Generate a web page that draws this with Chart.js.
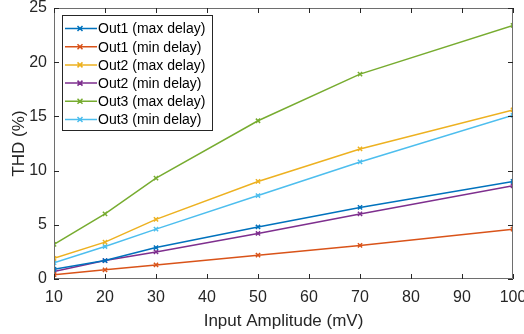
<!DOCTYPE html>
<html>
<head>
<meta charset="utf-8">
<script src="https://cdn.jsdelivr.net/npm/chart.js@4/dist/chart.umd.min.js"></script>
<style>
  html, body { margin: 0; padding: 0; background: #fff; }
  #wrap { width: 524px; height: 334px; }
</style>
</head>
<body>
<div id="wrap"><canvas id="myChart" width="524" height="334"></canvas></div>
<script>
// Data
const amplitudes = [10, 20, 30, 50, 70, 100]; // mV
const seriesNames = [
  'Out1 (max delay)', 'Out1 (min delay)',
  'Out2 (max delay)', 'Out2 (min delay)',
  'Out3 (max delay)', 'Out3 (min delay)'
];
const out1Max = [0.9, 1.7, 2.9, 4.8, 6.6, 9.0];
const out1Min = [0.4, 0.85, 1.3, 2.2, 3.1, 4.6];
const out2Max = [1.9, 3.4, 5.5, 9.0, 12.0, 15.6];
const out2Min = [0.7, 1.7, 2.5, 4.2, 6.0, 8.6];
const out3Max = [3.2, 6.0, 9.3, 14.6, 18.9, 23.4];
const out3Min = [1.5, 3.0, 4.6, 7.7, 10.8, 15.1];
const xTicks = [10, 20, 30, 40, 50, 60, 70, 80, 90, 100];
const yTicks = [0, 5, 10, 15, 20, 25];

const colors = ['#0072BD', '#D95319', '#EDB120', '#7E2F8E', '#77AC30', '#4DBEEE'];
const allSeries = [out1Max, out1Min, out2Max, out2Min, out3Max, out3Min];

const FONT = 'Liberation Sans, Arial, sans-serif';
const AXIS_COLOR = '#6e6e6e';

// box round the plot and inward ticks, like MATLAB
const boxPlugin = {
  id: 'box',
  afterDraw(chart) {
    const ctx = chart.ctx;
    const a = chart.chartArea;
    const xs = chart.scales.x, ys = chart.scales.y;
    ctx.save();
    ctx.strokeStyle = AXIS_COLOR;
    ctx.lineWidth = 1;
    ctx.beginPath();
    ctx.rect(Math.round(a.left) + 0.5, Math.round(a.top) + 0.5,
             Math.round(a.right - a.left) - 1, Math.round(a.bottom - a.top) - 1);
    ctx.stroke();
    ctx.strokeStyle = '#262626';
    ctx.beginPath();
    xTicks.forEach(v => {
      const px = Math.round(xs.getPixelForValue(v)) + 0.5;
      ctx.moveTo(px, a.bottom); ctx.lineTo(px, a.bottom - 5);
      ctx.moveTo(px, a.top); ctx.lineTo(px, a.top + 5);
    });
    yTicks.forEach(v => {
      const py = Math.round(ys.getPixelForValue(v)) + 0.5;
      ctx.moveTo(a.left, py); ctx.lineTo(a.left + 5, py);
      ctx.moveTo(a.right, py); ctx.lineTo(a.right - 5, py);
    });
    ctx.stroke();
    ctx.restore();
  }
};

// legend inside the plot, top left
const insideLegend = {
  id: 'insideLegend',
  afterDraw(chart) {
    const ctx = chart.ctx;
    const x0 = 62, y0 = 15, w = 150, h = 115, rowH = 18.2;
    ctx.save();
    ctx.fillStyle = '#fff';
    ctx.fillRect(x0, y0, w, h);
    ctx.strokeStyle = '#262626';
    ctx.lineWidth = 1;
    ctx.strokeRect(x0 + 0.5, y0 + 0.5, w, h);
    ctx.font = '14px ' + FONT;
    ctx.textBaseline = 'middle';
    chart.data.datasets.forEach((ds, i) => {
      const y = y0 + 13.5 + i * rowH;
      ctx.strokeStyle = ds.borderColor;
      ctx.lineWidth = 1.5;
      ctx.beginPath();
      ctx.moveTo(65, y); ctx.lineTo(97, y);
      const cx = 80, r = 2.5;
      ctx.moveTo(cx - r, y - r); ctx.lineTo(cx + r, y + r);
      ctx.moveTo(cx - r, y + r); ctx.lineTo(cx + r, y - r);
      ctx.stroke();
      ctx.fillStyle = '#000';
      ctx.fillText(ds.label, 98, y + 1);
    });
    ctx.restore();
  }
};

const ctx = document.getElementById('myChart').getContext('2d');
const myChart = new Chart(ctx, {
  type: 'line',
  data: {
    datasets: allSeries.map((vals, i) => ({
      label: seriesNames[i],
      data: amplitudes.map((x, j) => ({ x: x, y: vals[j] })),
      borderColor: colors[i],
      backgroundColor: colors[i],
      borderWidth: 1.5,
      pointStyle: 'crossRot',
      pointRadius: 3,
      pointBorderWidth: 1.5,
      fill: false,
      tension: 0
    }))
  },
  options: {
    responsive: false,
    animation: false,
    devicePixelRatio: 1,
    layout: { padding: { left: 0, right: 11, top: 8, bottom: 0 } },
    plugins: {
      legend: { display: false },
      tooltip: { enabled: false }
    },
    scales: {
      x: {
        type: 'linear',
        min: 10,
        max: 100,
        afterBuildTicks: s => { s.ticks = xTicks.map(v => ({ value: v })); },
        afterFit: s => { s.height = 55; s.paddingLeft = 0; s.paddingRight = 0; },
        grid: { display: false, drawTicks: false },
        border: { display: false },
        ticks: { color: '#262626', font: { family: FONT, size: 16 }, padding: 9, maxRotation: 0 },
        title: {
          display: true,
          text: 'Input Amplitude (mV)',
          color: '#262626',
          font: { family: FONT, size: 17 },
          padding: { top: 2, bottom: 2 }
        }
      },
      y: {
        min: 0,
        max: 25,
        afterBuildTicks: s => { s.ticks = yTicks.map(v => ({ value: v })); },
        afterFit: s => { s.width = 54; s.paddingTop = 0; s.paddingBottom = 0; },
        grid: { display: false, drawTicks: false },
        border: { display: false },
        ticks: { color: '#262626', font: { family: FONT, size: 16 }, padding: 7 },
        title: {
          display: true,
          text: 'THD (%)',
          color: '#262626',
          font: { family: FONT, size: 17 },
          padding: { top: 9, bottom: 0 }
        }
      }
    }
  },
  plugins: [boxPlugin, insideLegend]
});
</script>
</body>
</html>
